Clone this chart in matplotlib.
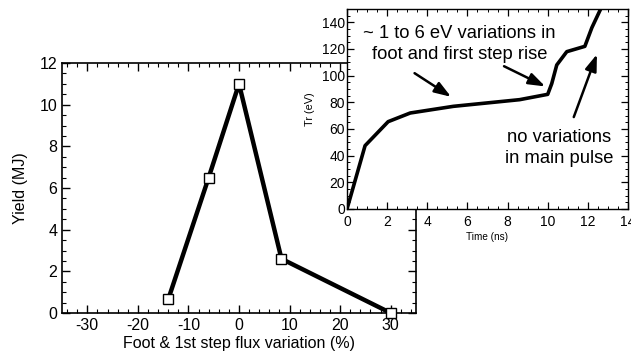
import matplotlib
matplotlib.use('Agg')
import matplotlib.pyplot as plt
from matplotlib.ticker import MultipleLocator

plt.rcParams['font.family'] = ['Liberation Sans', 'DejaVu Sans']
plt.rcParams['axes.unicode_minus'] = False

# 主图数据：通量变化 vs 产额
flux_var = [-14, -6, 0, 8.4, 30]
yield_mj = [0.65, 6.5, 11.0, 2.6, 0.0]

# 插图数据：辐射温度 vs 时间
time_ns = [0, 0.9, 2.05, 3.15, 5.3, 8.6, 10.0, 10.2, 10.45, 10.95, 11.85, 12.2, 12.7]
tr_ev = [0, 47.5, 65.5, 72, 77, 82, 86, 94, 108, 118, 122, 136, 152]

fig = plt.figure(figsize=(6.31, 3.61), dpi=100)
W, H = 631, 361

# 主坐标轴
ax = fig.add_axes([62 / W, 1 - 313 / H, (416 - 62) / W, (313 - 63) / H])
ax.plot(flux_var, yield_mj, color='black', lw=3.2, marker='s', ms=7.5,
        mfc='white', mec='black', mew=1.0, zorder=3, clip_on=False)
ax.set_xlim(-35, 35)
ax.set_ylim(0, 12)
ax.xaxis.set_major_locator(MultipleLocator(10))
ax.xaxis.set_minor_locator(MultipleLocator(2))
ax.yaxis.set_major_locator(MultipleLocator(2))
ax.yaxis.set_minor_locator(MultipleLocator(0.5))
ax.tick_params(which='both', direction='in', top=True, right=True, labelsize=11.5)
ax.tick_params(which='major', length=6, width=1)
ax.tick_params(which='minor', length=3, width=0.8)
ax.set_xlabel('Foot & 1st step flux variation (%)', fontsize=11.5, labelpad=2)
ax.set_ylabel('Yield (MJ)', fontsize=11.5, labelpad=8)
for s in ax.spines.values():
    s.set_linewidth(1.2)

# 插图坐标轴
ins = fig.add_axes([347 / W, 1 - 209 / H, (628 - 347) / W, (209 - 9) / H])
ins.set_facecolor('white')
ins.plot(time_ns, tr_ev, color='black', lw=2.6, solid_joinstyle='round')
ins.set_xlim(0, 14)
ins.set_ylim(0, 150)
ins.xaxis.set_major_locator(MultipleLocator(2))
ins.xaxis.set_minor_locator(MultipleLocator(0.5))
ins.yaxis.set_major_locator(MultipleLocator(20))
ins.yaxis.set_minor_locator(MultipleLocator(5))
ins.tick_params(which='both', direction='in', top=True, right=True, labelsize=10)
ins.tick_params(axis='y', pad=1.5)
ins.tick_params(axis='x', pad=4)
ins.tick_params(which='major', length=5, width=0.9)
ins.tick_params(which='minor', length=2.5, width=0.7)
ins.set_xlabel('Time (ns)', fontsize=7.2, labelpad=2.5)
ins.set_ylabel('Tr (eV)', fontsize=7.8, labelpad=5)
for s in ins.spines.values():
    s.set_linewidth(1.0)

# 注释文字与箭头
ins.text(5.6, 124, '~ 1 to 6 eV variations in\nfoot and first step rise',
         ha='center', va='center', fontsize=13.2, linespacing=1.3)
ins.text(10.55, 46, 'no variations\nin main pulse',
         ha='center', va='center', fontsize=13.2, linespacing=1.3)
arrow = dict(arrowstyle='-|>,head_length=1.0,head_width=0.35', color='black', lw=1.8)
ins.annotate('', xy=(5.3, 83), xytext=(3.25, 103), arrowprops=arrow)
ins.annotate('', xy=(10.0, 91), xytext=(7.7, 108), arrowprops=arrow)
ins.annotate('', xy=(12.5, 118), xytext=(11.25, 67), arrowprops=arrow)

fig.savefig('out.png', dpi=100)
